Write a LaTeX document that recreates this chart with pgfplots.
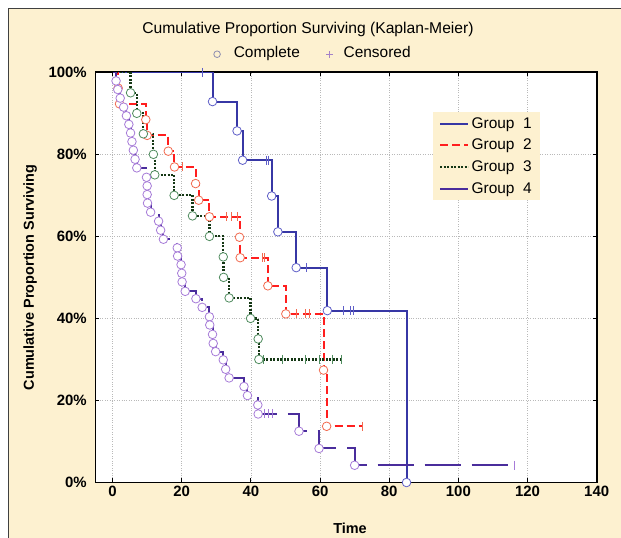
\documentclass[border=0pt]{standalone}
\usepackage{fontspec}
\setmainfont{Liberation Sans}
\usepackage{pgfplots}
\pgfplotsset{compat=1.18}

\definecolor{cream}{RGB}{253,241,208}
\definecolor{gone}{RGB}{55,55,165}
\definecolor{gonec}{RGB}{95,95,200}
\definecolor{gtwo}{RGB}{255,30,30}
\definecolor{gtwoc}{RGB}{242,106,79}
\definecolor{gthree}{RGB}{20,55,20}
\definecolor{gthreec}{RGB}{80,140,95}
\definecolor{gfour}{RGB}{74,45,156}
\definecolor{gfourc}{RGB}{166,123,216}
\definecolor{keycirc}{RGB}{140,140,175}
\definecolor{keycens}{RGB}{165,130,200}

\begin{document}
\begin{tikzpicture}[x=1bp,y=1bp]
\path[use as bounding box] (0,0) rectangle (621,538);
\fill[white] (0,0) rectangle (621,538);
\fill[cream] (8.3,0) rectangle (621,529.7);
\draw[black!75, line width=0.8bp] (8.3,0) -- (8.3,529.7) -- (621,529.7);

\node[anchor=base, font=\fontsize{15.7}{18}\selectfont] at (308,504.5)
  {Cumulative Proportion Surviving (Kaplan-Meier)};
\node[anchor=base, font=\fontsize{15.5}{18}\selectfont] at (312,480.5)
  {\tikz[baseline=-0.4ex]\draw[keycirc, line width=0.8bp] (0,0) circle (3.3bp);\hspace{13bp}Complete\hspace{26bp}%
   \tikz[baseline=-0.4ex]\draw[keycens, line width=0.8bp] (-3.5bp,0) -- (3.5bp,0) (0,-3.5bp) -- (0,3.5bp);\hspace{10bp}Censored};

\begin{axis}[
    at={(95.3bp,55.5bp)}, anchor=south west,
    scale only axis, width=501.4bp, height=410.2bp,
    xmin=-5, xmax=140, ymin=0, ymax=100,
    xtick={0,20,...,140}, ytick={0,20,...,100},
    yticklabel={\pgfmathprintnumber{\tick}\%},
    /pgf/number format/assume math mode=true,
    tick label style={font=\bfseries\fontsize{15}{18}\selectfont},
    yticklabel style={xshift=-5bp},
    tick align=inside, tick pos=both, major tick length=4bp,
    every tick/.style={black, line width=1.1bp},
    axis line style={black, line width=1.6bp},
    grid=major, major grid style={gray!55, dotted, line width=0.7bp},
    axis background/.style={fill=white},
    xlabel={Time}, ylabel={Cumulative Proportion Surviving},
    every axis x label/.style={at={(axis description cs:0.508,-0.1243)}, anchor=base,
        font=\bfseries\fontsize{14.5}{17}\selectfont},
    every axis y label/.style={at={(axis description cs:-0.13,0.5)}, rotate=90, anchor=center,
        font=\bfseries\fontsize{14.5}{17}\selectfont},
    legend style={at={(axis description cs:0.673,0.904)}, anchor=north west,
        fill=cream, draw=none, inner xsep=6bp, inner ysep=3bp,
        font=\fontsize{15.5}{18}\selectfont, row sep=4.5bp,
        nodes={inner sep=2.5bp}},
    legend image code/.code={\draw[#1] (0bp,0bp) -- (28bp,0bp);},
    legend cell align=left,
]

% Group 1
\addplot[const plot, gone, line width=2bp] coordinates {
    (0,100) (28.9,92.86) (36.0,85.71) (37.6,78.57) (46.0,69.84) (47.8,61.11)
    (53.1,52.38) (62.1,41.90) (85.0,0)
};
\addlegendentry{Group\ \ 1}

% Group 2
\addplot[const plot, gtwo, line width=2bp, dash pattern=on 8bp off 4bp] coordinates {
    (0,100) (1.6,96.15) (2.0,92.31) (9.6,88.46) (10.0,84.62) (16.1,80.77)
    (17.9,76.92) (24.0,72.87) (24.9,68.82) (28.0,64.77) (36.7,59.79) (36.9,54.80)
    (44.9,47.95) (50.1,41.10) (61.0,27.40) (61.9,13.70) (72.1,13.70)
};
\addlegendentry{Group\ \ 2}

% Group 3
\addplot[const plot, gthree, line width=2.2bp, dash pattern=on 2bp off 1.5bp] coordinates {
    (0,100) (5.2,95) (7.0,90) (8.9,85) (11.8,80) (12.2,75) (17.8,70) (23.1,65)
    (28.0,60) (32.0,55) (32.1,50) (33.7,45) (39.9,40) (42.1,35) (42.3,30) (66.1,30)
};
\addlegendentry{Group\ \ 3}

% Group 4
\addplot[const plot, gfour, line width=2bp, dash pattern=on 36bp off 11bp] coordinates {
    (0,100) (1.0,97.9) (1.5,95.8) (2.2,93.7) (3.2,91.5) (4.0,89.4) (4.7,87.3)
    (5.2,85.2) (5.6,83.1) (6.0,81.0) (6.5,78.8) (7.0,76.7) (9.8,74.4) (10.0,72.3)
    (10.0,70.2) (10.1,68.1) (11.0,65.9) (13.3,63.7) (13.9,61.5) (14.7,59.3)
    (18.7,57.2) (18.8,55.2) (19.8,53.1) (20.0,51.0) (20.1,48.9) (21.0,46.6)
    (24.1,44.8) (25.9,42.7) (28.0,40.4) (28.1,38.4) (28.9,36.1) (29.1,33.9)
    (29.8,31.9) (32.0,29.9) (32.7,27.6) (33.7,25.5) (38.0,23.4) (39.0,21.2)
    (42.0,18.9) (42.1,16.7) (53.9,12.5) (59.7,8.3) (70.0,4.2) (116.1,4.2)
};
\addlegendentry{Group\ \ 4}

% complete (event) markers
\addplot[only marks, forget plot, mark=*, mark size=4.3bp,
    mark options={draw=gonec, fill=white, line width=0.8bp}] coordinates {
    (28.9,92.86) (36.0,85.71) (37.6,78.57) (46.0,69.84) (47.8,61.11)
    (53.1,52.38) (62.1,41.90) (85.0,0)
};
\addplot[only marks, forget plot, mark=*, mark size=4.3bp,
    mark options={draw=gtwoc, fill=white, line width=0.8bp}] coordinates {
    (1.6,96.15) (2.0,92.31) (9.6,88.46) (10.0,84.62) (16.1,80.77)
    (17.9,76.92) (24.0,72.87) (24.9,68.82) (28.0,64.77) (36.7,59.79) (36.9,54.80)
    (44.9,47.95) (50.1,41.10) (61.0,27.40) (61.9,13.70)
};
\addplot[only marks, forget plot, mark=*, mark size=4.3bp,
    mark options={draw=gthreec, fill=white, line width=0.8bp}] coordinates {
    (5.2,95) (7.0,90) (8.9,85) (11.8,80) (12.2,75) (17.8,70) (23.1,65)
    (28.0,60) (32.0,55) (32.1,50) (33.7,45) (39.9,40) (42.1,35) (42.3,30)
};
\addplot[only marks, forget plot, mark=*, mark size=4.3bp,
    mark options={draw=gfourc, fill=white, line width=0.8bp}] coordinates {
    (1.0,97.9) (1.5,95.8) (2.2,93.7) (3.2,91.5) (4.0,89.4) (4.7,87.3)
    (5.2,85.2) (5.6,83.1) (6.0,81.0) (6.5,78.8) (7.0,76.7) (9.8,74.4) (10.0,72.3)
    (10.0,70.2) (10.1,68.1) (11.0,65.9) (13.3,63.7) (13.9,61.5) (14.7,59.3)
    (18.7,57.2) (18.8,55.2) (19.8,53.1) (20.0,51.0) (20.1,48.9) (21.0,46.6)
    (24.1,44.8) (25.9,42.7) (28.0,40.4) (28.1,38.4) (28.9,36.1) (29.1,33.9)
    (29.8,31.9) (32.0,29.9) (32.7,27.6) (33.7,25.5) (38.0,23.4) (39.0,21.2)
    (42.0,18.9) (42.1,16.7) (53.9,12.5) (59.7,8.3) (70.0,4.2)
};

% censored markers
\addplot[only marks, forget plot, mark=|, mark size=4.5bp, gonec,
    mark options={line width=0.8bp}] coordinates {
    (26.0,100) (44.5,78.57) (45.0,78.57) (56.0,52.38) (66.8,41.90) (68.7,41.90) (69.5,41.90)
};
\addplot[only marks, forget plot, mark=|, mark size=4.5bp, gtwoc,
    mark options={line width=0.8bp}] coordinates {
    (20.1,76.92) (32.9,64.77) (34.4,64.77) (36.0,64.77) (43.2,54.80) (43.8,54.80)
    (53.1,41.10) (55.8,41.10) (57.0,41.10) (72.1,13.70)
};
\addplot[only marks, forget plot, mark=|, mark size=4.5bp, gthreec,
    mark options={line width=0.8bp}] coordinates {
    (43.5,30) (49.0,30) (55.8,30) (59.7,30) (63.5,30) (66.1,30)
};
\addplot[only marks, forget plot, mark=|, mark size=4.5bp, gfourc,
    mark options={line width=0.8bp}] coordinates {
    (44.0,16.7) (45.0,16.7) (46.2,16.7) (116.1,4.2)
};
\end{axis}
\end{tikzpicture}
\end{document}
